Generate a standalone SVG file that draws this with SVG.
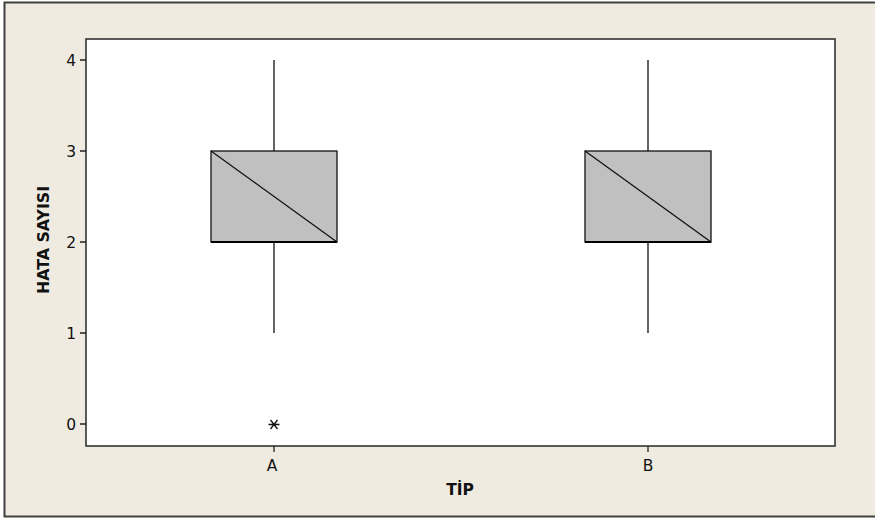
<svg xmlns="http://www.w3.org/2000/svg" width="875" height="520" viewBox="0 0 875 520">
<style>
.tick{stroke:#222;stroke-width:1.3;fill:none}
.num{font-family:"DejaVu Sans",Verdana,sans-serif;font-size:15.5px;fill:#111}
.lbl{font-family:"DejaVu Sans",Verdana,sans-serif;font-size:15.5px;font-weight:bold;fill:#111}
.box{fill:#c0c0c0;stroke:#111;stroke-width:1.3}
.ln{stroke:#111;stroke-width:1.3;fill:none}
.med{stroke:#000;stroke-width:2.2}
</style>
<rect x="0" y="0" width="875" height="520" fill="#ffffff"/>
<rect x="4.5" y="2.5" width="880" height="514" fill="#efebe1" stroke="#404040" stroke-width="2"/>
<rect id="plot" x="86" y="39" width="749" height="407" fill="#ffffff" stroke="#333" stroke-width="1.6"/>
<g id="yaxis">
<path class="tick" d="M80 60H86M80 151H86M80 242H86M80 333H86M80 424H86"/>
<text class="num" x="76" y="65.5" text-anchor="end">4</text>
<text class="num" x="76" y="156.5" text-anchor="end">3</text>
<text class="num" x="76" y="247.5" text-anchor="end">2</text>
<text class="num" x="76" y="338.5" text-anchor="end">1</text>
<text class="num" x="76" y="429.5" text-anchor="end">0</text>
<text class="lbl" transform="translate(49 240) rotate(-90)" text-anchor="middle" textLength="108" lengthAdjust="spacingAndGlyphs">HATA SAYISI</text>
</g>
<g id="xaxis">
<path class="tick" d="M274 446V452M648 446V452"/>
<text class="num" x="272" y="471" text-anchor="middle">A</text>
<text class="num" x="648" y="471" text-anchor="middle">B</text>
<text class="lbl" x="460" y="495" text-anchor="middle">TİP</text>
</g>
<g id="boxA">
<path class="ln" d="M274 60V151M274 242V333"/>
<rect class="box" x="211" y="151" width="126" height="91"/>
<path class="ln" d="M211 151L337 242"/>
<path class="med" d="M211 242H337"/>
</g>
<g id="boxB">
<path class="ln" d="M648 60V151M648 242V333"/>
<rect class="box" x="585" y="151" width="126" height="91"/>
<path class="ln" d="M585 151L711 242"/>
<path class="med" d="M585 242H711"/>
</g>
<g id="outlier">
<path class="ln" d="M268.5 424.5H279.5M270.5 420L277.5 429M270.5 429L277.5 420"/>
</g>
</svg>
